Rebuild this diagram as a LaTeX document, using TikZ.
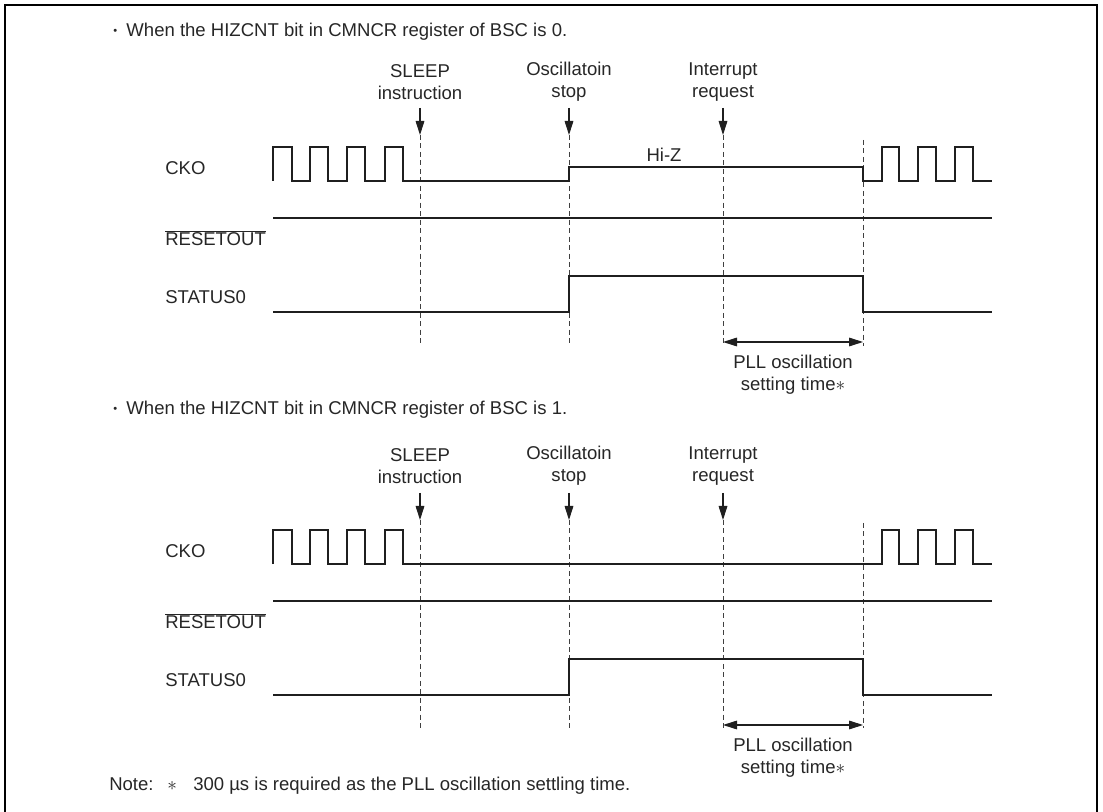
\documentclass[tikz,border=0pt]{standalone}
\usepackage{fontspec}
\setmainfont{Liberation Sans}
\usepackage{graphicx}
\usetikzlibrary{arrows.meta}
\tikzset{
  sig/.style={line width=2pt, line join=miter, color=black!88},
  guide/.style={line width=0.7pt, dash pattern=on 3.75pt off 2.6pt, color=black!75},
  evarrow/.style={-{Triangle[length=10.5pt,width=6.5pt]}, line width=0.8pt, color=black!88},
  spanarrow/.style={{Triangle[length=10.5pt,width=6.5pt]}-{Triangle[length=10.5pt,width=6.5pt]}, line width=0.8pt, color=black!88},
  lbl/.style={font=\fontsize{13.9}{16.5}\selectfont, inner sep=0pt, align=center, text=black!85},
  siglbl/.style={lbl, anchor=west},
  frame/.style={line width=2pt},
}
\newcommand{\tinybullet}{\raisebox{1.5pt}{\scalebox{0.6}{•}}\hspace{7pt}}
\begin{document}
\begin{tikzpicture}[x=0.75pt,y=-0.75pt]
\useasboundingbox (0,0) rectangle (1103,812);
\draw[frame] (5,812) -- (5,5) -- (1097,5) -- (1097,812);

% ================= Panel 0 =================
\node[lbl, anchor=west] (h0) at (113,32) {\tinybullet When the HIZCNT bit in CMNCR register of BSC is 0.};
\node[lbl] (sleep0) at (420,82) {SLEEP\\instruction};
\node[lbl] (osc0) at (569,82) {Oscillatoin\\stop};
\node[lbl] (irq0) at (723,82) {Interrupt\\request};
\coordinate (s0t) at (420,108); \coordinate (s0b) at (420,135);
\coordinate (o0t) at (569,108); \coordinate (o0b) at (569,135);
\coordinate (i0t) at (723,108); \coordinate (i0b) at (723,135);
\coordinate (p0t) at (863,140);
\coordinate (s0e) at (420,346); \coordinate (o0e) at (569,346);
\coordinate (i0e) at (723,346); \coordinate (p0e) at (863,346);
\draw[evarrow] (s0t) -- (s0b);
\draw[evarrow] (o0t) -- (o0b);
\draw[evarrow] (i0t) -- (i0b);
\draw[guide] (s0b) -- (s0e);
\draw[guide] (o0b) -- (o0e);
\draw[guide] (i0b) -- (i0e);
\draw[guide] (p0t) -- (p0e);

\node[siglbl] (cko0) at (165,168) {CKO};
\node[siglbl] (rst0) at (165,238) {$\overline{\mbox{RESETOUT}}$};
\node[siglbl] (st0) at (165,297) {STATUS0};
\node[lbl] (hiz0) at (664,155) {Hi-Z};

\draw[sig] (273,181) -- (273,147) -- (292,147) -- (292,181) -- (310,181) -- (310,147)
  -- (328,147) -- (328,181) -- (347,181) -- (347,147) -- (365,147) -- (365,181)
  -- (385,181) -- (385,147) -- (403,147) -- (403,181) -- (569,181) -- (569,167)
  -- (863,167) -- (863,181) -- (882,181) -- (882,147) -- (899,147) -- (899,181)
  -- (918,181) -- (918,147) -- (936,147) -- (936,181) -- (955,181) -- (955,147)
  -- (973,147) -- (973,181) -- (992,181);
\draw[sig] (273,218) -- (992,218);
\draw[sig] (273,312) -- (569,312) -- (569,276) -- (863,276) -- (863,312) -- (992,312);

\coordinate (pl0a) at (723,342); \coordinate (pl0b) at (863,342);
\draw[spanarrow] (pl0a) -- (pl0b);
\node[lbl] (pll0) at (793,375) {PLL oscillation\\setting time$\ast$};

% ================= Panel 1 =================
\begin{scope}[shift={(0,383)}]
\node[lbl, anchor=west] (h1) at (113,27) {\tinybullet When the HIZCNT bit in CMNCR register of BSC is 1.};
\node[lbl] (sleep1) at (420,83) {SLEEP\\instruction};
\node[lbl] (osc1) at (569,83) {Oscillatoin\\stop};
\node[lbl] (irq1) at (723,83) {Interrupt\\request};
\coordinate (s1t) at (420,110); \coordinate (s1b) at (420,137);
\coordinate (o1t) at (569,110); \coordinate (o1b) at (569,137);
\coordinate (i1t) at (723,110); \coordinate (i1b) at (723,137);
\coordinate (p1t) at (863,140);
\coordinate (s1e) at (420,345); \coordinate (o1e) at (569,345);
\coordinate (i1e) at (723,345); \coordinate (p1e) at (863,345);
\draw[evarrow] (s1t) -- (s1b);
\draw[evarrow] (o1t) -- (o1b);
\draw[evarrow] (i1t) -- (i1b);
\draw[guide] (s1b) -- (s1e);
\draw[guide] (o1b) -- (o1e);
\draw[guide] (i1b) -- (i1e);
\draw[guide] (p1t) -- (p1e);

\node[siglbl] (cko1) at (165,168) {CKO};
\node[siglbl] (rst1) at (165,238) {$\overline{\mbox{RESETOUT}}$};
\node[siglbl] (st1) at (165,297) {STATUS0};

\draw[sig] (273,181) -- (273,147) -- (292,147) -- (292,181) -- (310,181) -- (310,147)
  -- (328,147) -- (328,181) -- (347,181) -- (347,147) -- (365,147) -- (365,181)
  -- (385,181) -- (385,147) -- (403,147) -- (403,181)
  -- (882,181) -- (882,147) -- (899,147) -- (899,181)
  -- (918,181) -- (918,147) -- (936,147) -- (936,181) -- (955,181) -- (955,147)
  -- (973,147) -- (973,181) -- (992,181);
\draw[sig] (273,218) -- (992,218);
\draw[sig] (273,312) -- (569,312) -- (569,276) -- (863,276) -- (863,312) -- (992,312);

\coordinate (pl1a) at (723,342); \coordinate (pl1b) at (863,342);
\draw[spanarrow] (pl1a) -- (pl1b);
\node[lbl] (pll1) at (793,375) {PLL oscillation\\setting time$\ast$};
\end{scope}

\node[lbl, anchor=west] (note) at (109,786) {\makebox[43.5pt][l]{Note:}\makebox[19.5pt][l]{$\ast$}300 µs is required as the PLL oscillation settling time.};
\end{tikzpicture}
\end{document}
